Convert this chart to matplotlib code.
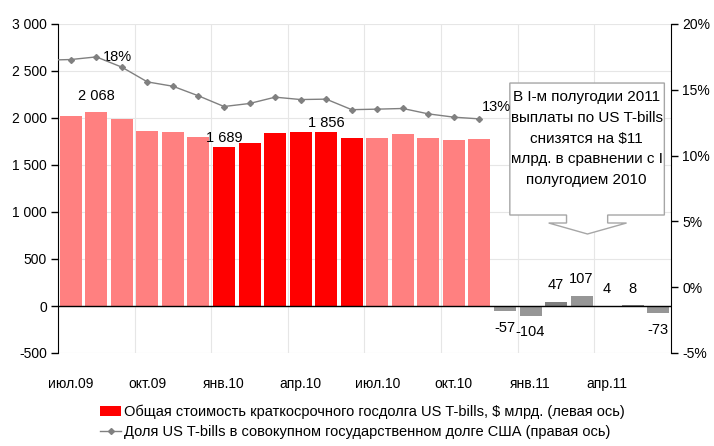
import matplotlib
matplotlib.use("Agg")
import matplotlib.pyplot as plt
from matplotlib.patches import Patch, Polygon
from matplotlib.lines import Line2D
from matplotlib.ticker import FuncFormatter, MultipleLocator


# Monthly axis, June 2011 is the last bar
months = ["июл.09", "авг.09", "сен.09", "окт.09", "ноя.09", "дек.09",
          "янв.10", "фев.10", "мар.10", "апр.10", "май.10", "июн.10",
          "июл.10", "авг.10", "сен.10", "окт.10", "ноя.10", "дек.10",
          "янв.11", "фев.11", "мар.11", "апр.11", "май.11", "июн.11"]

# Total T-bills outstanding, $ bn (jul.09 - nov.10)
tbills_total = [2021, 2068, 1989, 1865, 1854, 1801,
                1689, 1734, 1840, 1851, 1856, 1787,
                1790, 1830, 1790, 1770, 1780]

# Change vs same month a year before, $ bn (dec.10 - jun.11)
tbills_change = [-57, -104, 47, 107, 4, 8, -73]

# Share of T-bills in total federal debt, % (jun.09 - nov.10)
share_months = list(range(-1, 17))
tbills_share = [17.25, 17.30, 17.50, 16.72, 15.60, 15.27, 14.54,
                13.73, 13.96, 14.44, 14.26, 14.29, 13.49,
                13.53, 13.58, 13.17, 12.92, 12.79]

bar_values = tbills_total + tbills_change
bar_colors = (["#FF8080"] * 6 + ["#FF0000"] * 6 + ["#FF8080"] * 5 +
              ["#969696", "#969696", "#7F7F7F", "#969696", "#C00000", "#7F7F7F", "#969696"])

# which totals get a label, and how far above the bar (points)
total_labels = {1: 11.5, 6: 6.5, 10: 6.5}

plt.rcParams["font.family"] = ["Liberation Sans", "DejaVu Sans"]
plt.rcParams["font.size"] = 10

fig = plt.figure(figsize=(7.14, 4.46), dpi=100)
ax = fig.add_axes([58 / 714, 1 - 353 / 446, 613 / 714, 329 / 446])

x = list(range(len(bar_values)))
ax.bar(x, bar_values, width=0.86, color=bar_colors, zorder=2)

ax.set_xlim(-0.5, 23.5)
ax.set_ylim(-500, 3000)
ax.yaxis.set_major_locator(MultipleLocator(500))
ax.yaxis.set_major_formatter(FuncFormatter(lambda v, p: f"{int(v):,}".replace(",", " ")))

ax.set_xticks(range(0, 24, 3))
ax.set_xticklabels(months[::3])
ax.set_xticks([i + 2.5 for i in range(0, 21, 3)], minor=True)
ax.tick_params(axis="x", which="both", length=0, pad=17)
ax.tick_params(axis="y", direction="out", length=5, width=1, pad=3)
ax.grid(axis="y", color="#E6E6E6", lw=0.8, zorder=0)
ax.grid(axis="x", which="minor", color="#E6E6E6", lw=0.8, zorder=0)
ax.axhline(0, color="black", lw=1, zorder=3)
for side in ["top", "bottom", "right"]:
    ax.spines[side].set_visible(False)
ax.spines["left"].set_color("black")

# value labels on bars
for i, off in total_labels.items():
    ax.annotate(f"{bar_values[i]:,}".replace(",", " "), (i, bar_values[i]),
                xytext=(0, off), textcoords="offset points",
                ha="center", va="center", fontsize=10.5)
for j, v in enumerate(tbills_change):
    i = len(tbills_total) + j
    ax.annotate(str(v), (i, v), xytext=(0, 12 if v > 0 else -12),
                textcoords="offset points", ha="center", va="center", fontsize=10.5)

# callout with arrow
callout = Polygon([(17.19, 2372), (23.24, 2372), (23.24, 968), (21.02, 968),
                   (21.02, 883), (21.76, 883), (20.23, 766), (18.71, 883),
                   (19.41, 883), (19.41, 968), (17.19, 968)],
                  closed=True, facecolor="white", edgecolor="#A6A6A6", lw=1, zorder=4)
ax.add_patch(callout)
ax.text(20.2, 1780, "В I-м полугодии 2011\nвыплаты по US T-bills\nснизятся на $11\n"
        "млрд. в сравнении с I\nполугодием 2010",
        ha="center", va="center", linespacing=1.6, fontsize=11, zorder=5)

# share line on right axis
ax2 = ax.twinx()
ax2.plot(share_months, tbills_share, color="#808080", lw=1,
         marker="D", markersize=3, zorder=5)
ax2.set_ylim(-5, 20)
ax2.yaxis.set_major_locator(MultipleLocator(5))
ax2.yaxis.set_major_formatter(FuncFormatter(lambda v, p: f"{int(v)}%"))
ax2.tick_params(axis="y", direction="out", length=5, width=1, pad=3)
for side in ["top", "bottom", "left"]:
    ax2.spines[side].set_visible(False)
ax2.spines["right"].set_color("black")
ax2.annotate("18%", (1, tbills_share[2]), xytext=(5, 0), textcoords="offset points",
             ha="left", va="center", fontsize=10.5)
ax2.annotate("13%", (16, tbills_share[-1]), xytext=(2, 8.5), textcoords="offset points",
             ha="left", va="center", fontsize=10.5)

handles = [Patch(facecolor="#FF0000"),
           Line2D([], [], color="#808080", lw=1, marker="D", markersize=3)]
labels = ["Общая стоимость краткосрочного госдолга US T-bills, $ млрд. (левая ось)",
          "Доля US T-bills в совокупном государственном долге США (правая ось)"]
fig.legend(handles, labels, loc="upper left", bbox_to_anchor=(100 / 714, 1 - 405 / 446),
           frameon=False, borderpad=0, borderaxespad=0, handlelength=1.45,
           handletextpad=0.2, labelspacing=0.4, fontsize=10.5)

fig.savefig("out.png", dpi=100)
